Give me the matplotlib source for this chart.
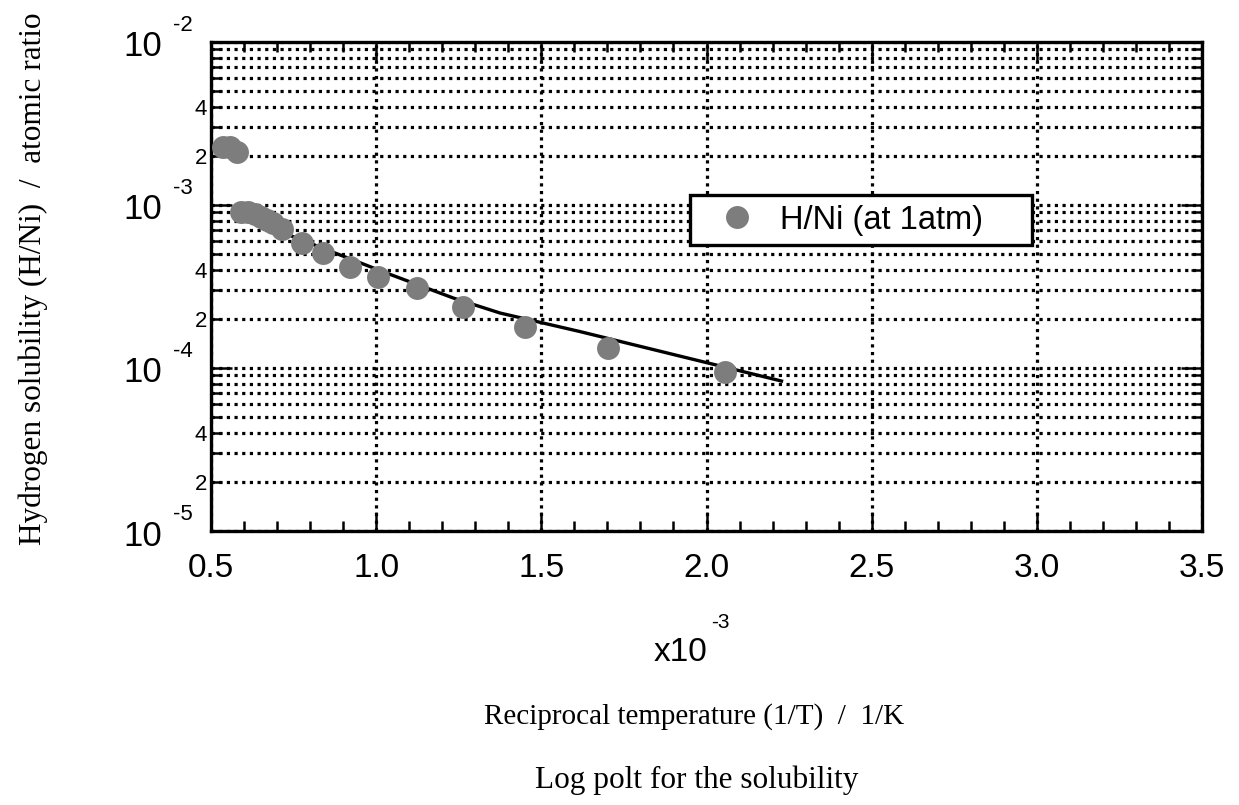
import matplotlib
matplotlib.use('Agg')
import matplotlib.pyplot as plt
from matplotlib.ticker import MultipleLocator, LogLocator, NullFormatter, FuncFormatter, FormatStrFormatter

# ---- data ----
inv_T = [0.536, 0.558, 0.579, 0.591, 0.612, 0.633, 0.651, 0.670, 0.688, 0.715,
         0.775, 0.840, 0.921, 1.007, 1.123, 1.264, 1.451, 1.703, 2.056]
solubility = [2.26e-3, 2.25e-3, 2.11e-3, 9.05e-4, 9.05e-4, 8.79e-4, 8.43e-4, 8.08e-4,
              7.75e-4, 7.12e-4, 5.82e-4, 5.05e-4, 4.18e-4, 3.63e-4, 3.08e-4, 2.36e-4,
              1.79e-4, 1.32e-4, 9.50e-5]
fit_x = [0.564, 1.032, 1.234, 1.375, 1.617, 2.232]
fit_y = [8.92e-4, 3.81e-4, 2.68e-4, 2.17e-4, 1.67e-4, 8.26e-5]
decades = [1e-5, 1e-4, 1e-3, 1e-2]
decade_exps = ['-5', '-4', '-3', '-2']
series_label = 'H/Ni (at 1atm)'
ylabel = 'Hydrogen solubility (H/Ni)  /  atomic ratio'
xlabel = 'Reciprocal temperature (1/T)  /  1/K'
title = 'Log polt for the solubility'

SANS = ['Liberation Sans', 'DejaVu Sans']
SERIF = ['Liberation Serif', 'DejaVu Serif']
plt.rcParams['font.family'] = SANS

W, H = 1239, 805
fig = plt.figure(figsize=(W / 100, H / 100), dpi=100)
L, R, T, B = 211, 1202, 41.7, 531
ax = fig.add_axes([L / W, 1 - B / H, (R - L) / W, (B - T) / H])

ax.set_yscale('log')
ax.set_xlim(0.5, 3.5)
ax.set_ylim(1e-5, 1e-2)

# fit line and data
ax.plot(fit_x, fit_y, color='black', lw=2.4, zorder=3, solid_capstyle='butt')
ax.plot(inv_T, solubility, ls='none', marker='o', ms=16.5, color='#7d7d7d',
        mec='#7d7d7d', mew=0, zorder=4, label=series_label)

# ticks
ax.xaxis.set_major_locator(MultipleLocator(0.5))
ax.xaxis.set_minor_locator(MultipleLocator(0.1))
ax.xaxis.set_major_formatter(FormatStrFormatter('%.1f'))
ax.yaxis.set_major_locator(LogLocator(base=10, numticks=10))
ax.yaxis.set_minor_locator(LogLocator(base=10, subs=[2, 3, 4, 5, 6, 7, 8, 9], numticks=20))
ax.yaxis.set_major_formatter(NullFormatter())


def minor_fmt(v, pos):
    import math
    m = v / 10 ** math.floor(math.log10(v) + 1e-9)
    r = round(m)
    return str(r) if r in (2, 4) and abs(m - r) < 0.01 else ''


ax.yaxis.set_minor_formatter(FuncFormatter(minor_fmt))
ax.tick_params(which='both', direction='in', top=True, right=True, color='black')
ax.tick_params(axis='x', which='major', length=14, width=1.8, labelsize=24, pad=16)
ax.tick_params(axis='x', which='minor', length=7, width=1.8)
ax.tick_params(axis='y', which='major', length=15, width=1.8)
ax.tick_params(axis='y', which='minor', length=8, width=1.8, labelsize=16, pad=3)

for s in ax.spines.values():
    s.set_linewidth(2.4)

# grid
grid_style = dict(color='black', linestyle=(0, (1, 1.4)), linewidth=2.3)
ax.grid(True, axis='y', which='both', **grid_style)
ax.grid(True, axis='x', which='major', **grid_style)
ax.set_axisbelow(True)

# decade labels  10^-n
for d, e in zip(decades, decade_exps):
    ax.annotate('10', xy=(0, d), xycoords=('axes fraction', 'data'),
                xytext=(-35.3, -3.6), textcoords='offset points',
                ha='right', va='center', fontsize=25, family=SANS)
    ax.annotate(e, xy=(0, d), xycoords=('axes fraction', 'data'),
                xytext=(-27.4, 12.0), textcoords='offset points',
                ha='left', va='center', fontsize=16, family=SANS)

# legend
leg = ax.legend(loc='center left', bbox_to_anchor=(0.4834, 0.5784, 0.3451, 0.1144),
                mode='expand', borderaxespad=0, fancybox=False, edgecolor='black',
                framealpha=1, fontsize=23.5, borderpad=0.3, handlelength=2.27,
                handletextpad=0.18, numpoints=1)
leg.get_frame().set_linewidth(2.4)
leg.set_zorder(10)

# texts
fig.text(33 / W, 1 - 279 / H, ylabel, rotation=90, family=SERIF, fontsize=22.5,
         ha='center', va='center')
fig.text(681 / W, 1 - 652 / H, 'x10', family=SANS, fontsize=24, ha='center', va='center')
fig.text(720 / W, 1 - 623 / H, '-3', family=SANS, fontsize=15, ha='center', va='center')
fig.text(694 / W, 1 - 717 / H, xlabel, family=SERIF, fontsize=21, ha='center', va='center')
fig.text(697 / W, 1 - 780 / H, title, family=SERIF, fontsize=22.5, ha='center', va='center')

fig.savefig('out.png', dpi=100)
